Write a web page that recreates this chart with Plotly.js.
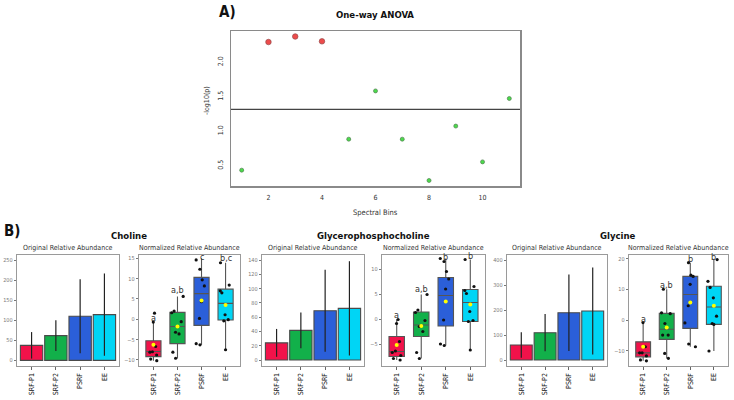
<!DOCTYPE html>
<html>
<head>
<meta charset="utf-8">
<script src="https://cdn.plot.ly/plotly-3.0.1.min.js"></script>
<style>
  body { margin: 0; background: #fff; }
  #chart { width: 734px; height: 400px; }
</style>
</head>
<body>
<div id="chart"></div>
<script>
// ---- A) one-way ANOVA on spectral bins
const bins = [1, 2, 3, 4, 5, 6, 7, 8, 9, 10, 11];
const negLogP = [0.42, 2.28, 2.36, 2.29, 0.87, 1.57, 0.87, 0.27, 1.06, 0.54, 1.46];
const sigBins = [2, 3, 4];
const pThreshold = 0.05;
const anovaYTicks = [0.5, 1.0, 1.5, 2.0];

// ---- B) groups
const groups = ['SRF-P1', 'SRF-P2', 'PSRF', 'EE'];
const groupColors = ['#f2124a', '#12b04a', '#2b5fd9', '#00d5f5'];

// original relative abundance (mean, sd)
const cholineMean = [37.5, 61.7, 110, 114];
const cholineSd = [33, 38.5, 92, 102.5];
const gpcMean = [24, 41.5, 69, 72.3];
const gpcSd = [19.5, 25, 57.5, 66];
const glycineMean = [60, 109.3, 189.3, 196];
const glycineSd = [50.7, 74.7, 153, 174];

// normalized relative abundance - choline
const cholQ1 = [-9.2, -6.0, -1.5, -0.2];
const cholMedian = [-7.95, -1.8, 6.3, 3.9];
const cholQ3 = [-5.3, 1.7, 10.3, 7.4];
const cholLow = [-10.2, -9.6, -6.3, -7.5];
const cholHigh = [-0.7, 5.6, 15.0, 13.9];
const cholAvg = [-6.3, -1.8, 4.6, 3.5];
const cholPoints = [
  [1.5, -0.7, -6.7, -8.0, -8.1, -8.8, -9.8, -10.2],
  [5.6, 2.0, 1.6, -0.6, -3.2, -3.6, -8.1, -9.6],
  [14.6, 12.3, 9.7, 8.2, 4.3, 0.2, -6.0, -6.3],
  [13.9, 8.4, 7.0, 6.5, 1.1, -0.1, -0.4, -7.5]
];
const cholLetters = ['a', 'a,b', 'c', 'b,c'];
const cholLetterY = [0.3, 7.2, 15.4, 15.0];

// normalized relative abundance - glycerophosphocholine
const gpcQ1 = [-7.5, -3.5, -1.4, -0.5];
const gpcMedian = [-6.5, -1.2, 4.7, 3.3];
const gpcQ3 = [-3.5, 1.4, 8.3, 5.9];
const gpcLow = [-8.2, -7.9, -5.3, -6.2];
const gpcHigh = [-0.1, 4.9, 12.1, 11.9];
const gpcAvg = [-5.2, -1.4, 3.5, 2.9];
const gpcPoints = [
  [-0.1, -0.9, -4.5, -6.4, -6.7, -7.3, -7.9, -8.2],
  [4.9, 1.8, 1.3, -0.3, -1.5, -2.5, -6.7, -7.9],
  [12.1, 11.5, 9.5, 8.0, 6.0, -0.2, -5.0, -5.3],
  [11.9, 6.5, 5.7, 5.1, 1.5, -0.3, -0.5, -6.2]
];
const gpcLetters = ['a', 'a,b', 'b', 'b'];
const gpcLetterY = [0.8, 6.0, 12.4, 12.6];

// normalized relative abundance - glycine
const glyQ1 = [-12.0, -6.3, -2.7, -1.4];
const glyMedian = [-10.7, -3.0, 8.4, 4.3];
const glyQ3 = [-7.1, 2.2, 14.3, 11.1];
const glyLow = [-13.3, -12.5, -8.7, -10.1];
const glyHigh = [-0.8, 10.1, 18.8, 19.8];
const glyAvg = [-8.7, -2.4, 5.8, 4.7];
const glyPoints = [
  [-0.8, -8.7, -10.7, -10.7, -11.7, -13.0, -13.3],
  [10.1, 2.4, 2.1, -1.1, -4.9, -4.9, -10.9, -12.5],
  [18.8, 14.7, 14.3, 11.7, 4.7, -0.9, -7.8, -8.7],
  [19.8, 12.7, 10.7, 7.3, 1.3, -1.1, -1.4, -10.1]
];
const glyLetters = ['a', 'a,b', 'b', 'b'];
const glyLetterY = [0.5, 11.6, 19.9, 20.7];

const FONT = '"Liberation Sans Narrow", "DejaVu Sans Condensed", Lato, sans-serif';
const W = 734, H = 400;
const px = x => x / W;
const py = y => 1 - y / H;

const traces = [];
const annotations = [];
const layout = {
  width: W, height: H,
  margin: { l: 0, r: 0, t: 0, b: 0 },
  showlegend: false,
  paper_bgcolor: '#fff', plot_bgcolor: '#fff',
  font: { family: FONT, color: '#222' },
  bargap: 0.08, boxgap: 0.1, boxmode: 'overlay',
  annotations: annotations,
  shapes: []
};

function text(t, x, y, size, color, opts) {
  annotations.push(Object.assign({
    text: t, xref: 'paper', yref: 'paper', x: px(x), y: py(y),
    showarrow: false, xanchor: 'center', yanchor: 'middle',
    font: { size: size, color: color || '#111', family: FONT }
  }, opts || {}));
}

// ---------- panel A
const isSig = b => sigBins.includes(b);
traces.push({
  type: 'scatter', mode: 'markers', x: bins, y: negLogP,
  xaxis: 'x', yaxis: 'y', cliponaxis: false,
  marker: {
    color: bins.map(b => isSig(b) ? '#e60000' : '#00cc00'),
    size: bins.map(b => isSig(b) ? 5.5 : 4),
    line: { color: bins.map(b => isSig(b) ? '#6a0000' : '#0a4a0a'), width: 0.7 }
  }
});
layout.xaxis = {
  domain: [px(231), px(520)], anchor: 'y', range: [0.6, 11.4],
  tickvals: [2, 4, 6, 8, 10], ticks: '', ticklabelstandoff: 4,
  showgrid: false, zeroline: false,
  showline: true, mirror: true, linecolor: '#8a8a8a', linewidth: 1.5,
  tickfont: { size: 7, color: '#333' }
};
layout.yaxis = {
  domain: [py(186), py(31)], anchor: 'x', range: [0.19, 2.44],
  showticklabels: false, ticks: '', showgrid: false, zeroline: false,
  showline: true, mirror: true, linecolor: '#8a8a8a', linewidth: 1.5
};
// rotated y tick labels of the ANOVA panel
anovaYTicks.forEach(v => annotations.push({
  text: v.toFixed(1), xref: 'paper', yref: 'y', x: px(221), y: v,
  textangle: -90, showarrow: false, xanchor: 'center', yanchor: 'middle',
  font: { size: 7, color: '#333', family: FONT }
}));
layout.shapes.push({
  type: 'line', xref: 'x domain', yref: 'y', x0: 0, x1: 1,
  y0: -Math.log10(pThreshold), y1: -Math.log10(pThreshold),
  line: { color: '#444', width: 1.2 }
});
text('<b>A)</b>', 227, 12, 15);
text('<b>One-way ANOVA</b>', 375, 15, 9.5);
text('-log10(p)', 207, 101, 7, '#444', { textangle: -90 });
text('Spectral Bins', 375, 212, 7.5, '#333');

// ---------- panel B
const panelX = [[17, 119], [139, 240], [262, 364], [382, 485], [507, 607], [629, 728]];
const panelY = [255, 366];

const originals = [
  { mean: cholineMean, sd: cholineSd, range: [-14, 262.5], dtick: 50 },
  { mean: gpcMean, sd: gpcSd, range: [-8.4, 147], dtick: 20 },
  { mean: glycineMean, sd: glycineSd, range: [-24, 420], dtick: 100 }
];
const normalized = [
  { q1: cholQ1, med: cholMedian, q3: cholQ3, lo: cholLow, hi: cholHigh, avg: cholAvg, pts: cholPoints, let: cholLetters, letY: cholLetterY, range: [-11.5, 15.8], dtick: 5 },
  { q1: gpcQ1, med: gpcMedian, q3: gpcQ3, lo: gpcLow, hi: gpcHigh, avg: gpcAvg, pts: gpcPoints, let: gpcLetters, letY: gpcLetterY, range: [-9.4, 12.8], dtick: 5 },
  { q1: glyQ1, med: glyMedian, q3: glyQ3, lo: glyLow, hi: glyHigh, avg: glyAvg, pts: glyPoints, let: glyLetters, letY: glyLetterY, range: [-15, 21.3], dtick: 10 }
];
const metaboliteNames = ['Choline', 'Glycerophosphocholine', 'Glycine'];

function setAxes(i, yRange, dtick) {
  const n = i + 2;
  const [x0, x1] = panelX[i];
  layout['xaxis' + n] = {
    domain: [px(x0), px(x1)], anchor: 'y' + n, type: 'category',
    categoryorder: 'array', categoryarray: groups, range: [-0.6, 3.6],
    tickangle: -90, ticks: 'outside', ticklen: 3, tickcolor: '#666',
    showgrid: false, zeroline: false,
    showline: true, mirror: true, linecolor: '#9a9a9a', linewidth: 1.3,
    tickfont: { size: 7, color: '#111' }
  };
  layout['yaxis' + n] = {
    domain: [py(panelY[1]), py(panelY[0])], anchor: 'x' + n,
    range: yRange, dtick: dtick, tick0: 0,
    ticks: 'outside', ticklen: 2, tickcolor: '#777',
    showgrid: false, zeroline: false,
    showline: true, mirror: true, linecolor: '#9a9a9a', linewidth: 1.3,
    tickfont: { size: 5.5, color: '#777' }
  };
  return ['x' + n, 'y' + n];
}

for (let m = 0; m < 3; m++) {
  // bar chart of original values
  const o = originals[m];
  const [xb, yb] = setAxes(2 * m, o.range, o.dtick);
  traces.push({
    type: 'bar', x: groups, y: o.mean, xaxis: xb, yaxis: yb,
    marker: { color: groupColors, line: { color: '#4a4a4a', width: 1.1 } },
    error_y: { type: 'data', array: o.sd, visible: true, color: '#222', thickness: 1.2, width: 0 }
  });

  // box plot of normalized values
  const s = normalized[m];
  const [xn, yn] = setAxes(2 * m + 1, s.range, s.dtick);
  groups.forEach((g, k) => {
    traces.push({
      type: 'box', x: [g], q1: [s.q1[k]], median: [s.med[k]], q3: [s.q3[k]],
      lowerfence: [s.lo[k]], upperfence: [s.hi[k]],
      xaxis: xn, yaxis: yn, boxpoints: false, whiskerwidth: 0,
      fillcolor: groupColors[k], line: { color: '#555', width: 1.1 }
    });
  });
  const ptX = [], ptY = [];
  s.pts.forEach((arr, k) => arr.forEach(v => { ptX.push(groups[k]); ptY.push(v); }));
  traces.push({
    type: 'box', x: ptX, y: ptY, xaxis: xn, yaxis: yn,
    boxpoints: 'all', jitter: 0.85, pointpos: 0,
    fillcolor: 'rgba(0,0,0,0)', line: { color: 'rgba(0,0,0,0)', width: 0 },
    marker: { color: '#111', size: 3.2 }
  });
  traces.push({
    type: 'scatter', mode: 'markers', x: groups, y: s.avg, xaxis: xn, yaxis: yn,
    marker: { color: '#ffff00', size: 4 }
  });
  groups.forEach((g, k) => {
    annotations.push({
      text: s.let[k], xref: xn, yref: yn, x: g, y: s.letY[k],
      showarrow: false, xanchor: 'center', yanchor: 'middle',
      font: { size: 9, color: '#333', family: FONT }
    });
  });

  // titles
  const left = panelX[2 * m], right = panelX[2 * m + 1];
  text('<b>' + metaboliteNames[m] + '</b>', (left[1] + right[0]) / 2, 235, 9.5);
  text('Original Relative Abundance', (left[0] + left[1]) / 2, 248, 7, '#333');
  text('Normalized Relative Abundance', (right[0] + right[1]) / 2, 248, 7, '#333');
}
text('<b>B)</b>', 12, 231, 15);

Plotly.newPlot('chart', traces, layout, { staticPlot: true });
</script>
</body>
</html>
